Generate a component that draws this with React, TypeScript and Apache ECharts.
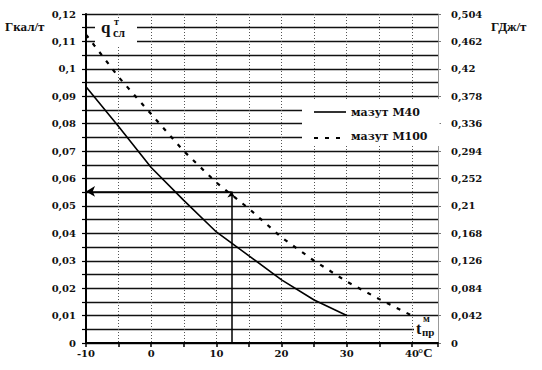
import React, { useEffect, useRef } from "react";
import * as echarts from "echarts";

const TEMPS_M40 = [-10, -5, 0, 5, 10, 15, 20, 25, 30];
const M40 = [0.0935, 0.079, 0.064, 0.052, 0.0405, 0.0318, 0.023, 0.0157, 0.01];
const TEMPS_M100 = [-10, -5, 0, 5, 10, 15, 20, 25, 30, 35, 40];
const M100 = [0.1125, 0.097, 0.0835, 0.07, 0.0585, 0.049, 0.0385, 0.03, 0.0224, 0.016, 0.01];
const SERIES_NAMES = ["мазут М40", "мазут М100"];
const EXAMPLE_T = 12.3;
const EXAMPLE_Q = 0.0553;

const fmt = (v: number) => {
  const n = Number(v.toFixed(3));
  return String(n).replace(".", ",");
};

const SERIF = "DejaVu Serif";
const M40_STYLE = { color: "#000", width: 1.6, type: "solid" as const };
const M100_STYLE = { color: "#000", width: 2.2, type: [4, 7] };

export default function App() {
  const ref = useRef<HTMLDivElement>(null);
  useEffect(() => {
    document.body.style.margin = "0";
    const chart = echarts.init(ref.current!, null, { renderer: "svg" });
    const labelStyle = { fontFamily: SERIF, fontWeight: "bold" as const, fontSize: 10, color: "#111" };
    chart.setOption({
      animation: false,
      backgroundColor: "#fff",
      grid: { left: 86, right: 104, top: 14, bottom: 27 },
      legend: {
        data: SERIES_NAMES.map((name) => ({ name, icon: "none" })),
        orient: "vertical",
        left: 302,
        top: 99,
        padding: [6, 12, 4, 12],
        itemGap: 12,
        itemWidth: 32,
        itemHeight: 14,
        backgroundColor: "#fff",
        textStyle: { fontFamily: SERIF, fontWeight: "bold", fontSize: 11, color: "#111" },
      },
      xAxis: {
        type: "value",
        min: -10,
        max: 44,
        interval: 5,
        axisLine: { show: true, onZero: false, lineStyle: { color: "#000", width: 2 } },
        axisTick: { show: true, length: 4, lineStyle: { color: "#000", width: 1.5 } },
        axisLabel: {
          ...labelStyle,
          margin: 5,
          formatter: (v: number) => (Math.abs(v % 10) < 1e-9 && v <= 40 ? String(v) : ""),
        },
        splitLine: { show: true, lineStyle: { color: "#555", width: 1, type: [1, 2] } },
      },
      yAxis: [
        {
          type: "value",
          min: 0,
          max: 0.12,
          interval: 0.01,
          axisLine: { show: true, onZero: false, lineStyle: { color: "#000", width: 2 } },
          axisTick: { show: true, length: 4, lineStyle: { color: "#000", width: 1.2 } },
          minorTick: { show: true, splitNumber: 2, length: 4, lineStyle: { color: "#000", width: 1.2 } },
          axisLabel: { ...labelStyle, margin: 10, formatter: fmt },
          splitLine: { show: true, lineStyle: { color: "#111", width: 1.4 } },
          minorSplitLine: { show: true, lineStyle: { color: "#111", width: 1.4 } },
        },
        {
          type: "value",
          position: "right",
          min: 0,
          max: 0.504,
          interval: 0.042,
          axisLine: { show: true, onZero: false, lineStyle: { color: "#999", width: 1 } },
          axisTick: { show: true, length: 3, lineStyle: { color: "#777", width: 1 } },
          axisLabel: { ...labelStyle, margin: 13, formatter: fmt },
          splitLine: { show: false },
        },
      ],
      series: [
        {
          name: SERIES_NAMES[0],
          type: "line",
          yAxisIndex: 0,
          symbol: "none",
          lineStyle: M40_STYLE,
          itemStyle: { color: "#000" },
          data: TEMPS_M40.map((t, i) => [t, M40[i]]),
          z: 5,
        },
        {
          name: SERIES_NAMES[1],
          type: "line",
          yAxisIndex: 0,
          symbol: "none",
          lineStyle: M100_STYLE,
          itemStyle: { color: "#000" },
          data: TEMPS_M100.map((t, i) => [t, M100[i]]),
          z: 5,
          markLine: {
            silent: true,
            animation: false,
            label: { show: false },
            emphasis: { disabled: true },
            lineStyle: { color: "#000", width: 1.5, type: "solid" },
            symbolSize: [8, 9],
            data: [
              [
                { coord: [EXAMPLE_T, 0], symbol: "none" },
                { coord: [EXAMPLE_T, EXAMPLE_Q], symbol: "arrow", symbolSize: [6, 6] },
              ],
              [
                { coord: [EXAMPLE_T, EXAMPLE_Q], symbol: "none" },
                { coord: [-10, EXAMPLE_Q], symbol: "arrow" },
              ],
            ],
          },
        },
      ],
      graphic: [
        {
          type: "line",
          z: 20,
          shape: { x1: 314, y1: 112, x2: 346, y2: 112 },
          style: { stroke: M40_STYLE.color, lineWidth: M40_STYLE.width },
        },
        {
          type: "line",
          z: 20,
          shape: { x1: 314, y1: 138, x2: 346, y2: 138 },
          style: { stroke: M100_STYLE.color, lineWidth: M100_STYLE.width, lineDash: M100_STYLE.type },
        },
        {
          type: "text",
          left: 5,
          top: 20,
          style: { text: "Гкал/т", fontFamily: "Liberation Serif", fontWeight: "bold", fontSize: 13, fill: "#111" },
        },
        {
          type: "text",
          left: 491,
          top: 20,
          style: { text: "ГДж/т", fontFamily: "Liberation Serif", fontWeight: "bold", fontSize: 13, fill: "#111" },
        },
        {
          type: "rect",
          shape: { x: 95, y: 19, width: 42, height: 26 },
          style: { fill: "#fff" },
          z: 10,
        },
        {
          type: "text",
          x: 101,
          y: 19,
          z: 11,
          style: { text: "q", fontFamily: "Liberation Serif", fontWeight: "bold", fontSize: 17, fill: "#111" },
        },
        {
          type: "text",
          x: 114,
          y: 16,
          z: 11,
          style: { text: "т", fontFamily: "Liberation Serif", fontWeight: "bold", fontSize: 10, fill: "#111" },
        },
        {
          type: "text",
          x: 113,
          y: 27,
          z: 11,
          style: { text: "сл", fontFamily: "Liberation Serif", fontWeight: "bold", fontSize: 12, fill: "#111" },
        },
        {
          type: "rect",
          shape: { x: 414, y: 318, width: 24, height: 22 },
          style: { fill: "#fff" },
          z: 10,
        },
        {
          type: "text",
          x: 416,
          y: 320,
          z: 11,
          style: { text: "t", fontFamily: "Liberation Serif", fontWeight: "bold", fontSize: 16, fill: "#111" },
        },
        {
          type: "text",
          x: 423,
          y: 313,
          z: 11,
          style: { text: "м", fontFamily: "Liberation Serif", fontWeight: "bold", fontSize: 10, fill: "#111" },
        },
        {
          type: "text",
          x: 422,
          y: 326,
          z: 11,
          style: { text: "пр", fontFamily: "Liberation Serif", fontWeight: "bold", fontSize: 11, fill: "#111" },
        },
        {
          type: "text",
          x: 418,
          y: 346,
          style: { text: "°C", fontFamily: "Liberation Serif", fontWeight: "bold", fontSize: 13, fill: "#111" },
        },
      ],
    });
    return () => chart.dispose();
  }, []);
  return <div ref={ref} style={{ width: 542, height: 370 }} />;
}
